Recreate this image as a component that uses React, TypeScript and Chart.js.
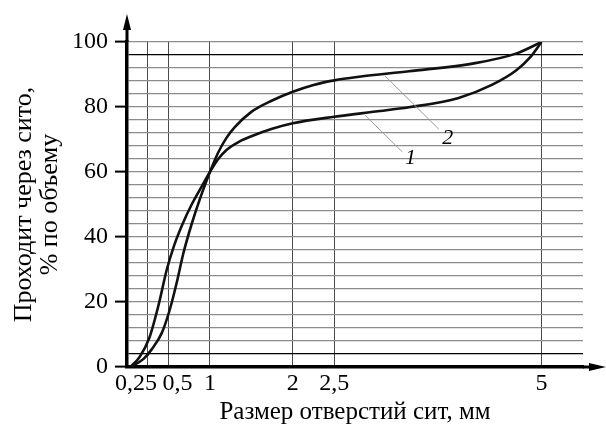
import React, { useEffect, useRef } from "react";
import { Chart, registerables } from "chart.js";

Chart.register(...registerables);

// ---- data ----
const curve1X = [0.04, 0.15, 0.27, 0.38, 0.48, 0.57, 0.67, 0.78, 0.9, 1.0, 1.1, 1.2, 1.35, 1.5, 1.75, 2.0, 2.5, 3.0, 3.4, 4.0, 4.4, 4.7, 4.87, 5.0];
const curve1Y = [0, 3, 9, 19, 30, 37.5, 44, 50, 55.5, 60, 64, 66.8, 69.3, 71, 73.3, 75, 77, 78.6, 79.9, 82.8, 86.8, 91.4, 95.5, 100];
const curve2X = [0.04, 0.2, 0.3, 0.42, 0.52, 0.6, 0.68, 0.78, 0.89, 1.0, 1.1, 1.2, 1.3, 1.5, 1.75, 2.0, 2.25, 2.5, 2.8, 3.4, 4.2, 4.7, 5.0];
const curve2Y = [0, 2.5, 5.5, 10.5, 18, 26, 35, 44, 52.5, 60, 66, 70.5, 73.8, 78.5, 82, 84.7, 86.8, 88.2, 89.3, 91, 93.5, 96.5, 100];
const curveNames = ["1", "2"];

const xTickValues = [0.25, 0.5, 1, 2, 2.5, 5];
const xTickLabels = ["0,25", "0,5", "1", "2", "2,5", "5"];
const yTickValues = [0, 20, 40, 60, 80, 100];
const yGridStep = 4;
const yDarkLines = [4, 96];
const xMin = 0;
const xMax = 5.5;
const yMin = 0;
const yMax = 100;

const xTitle = "Размер отверстий сит, мм";
const yTitle = ["Проходит через сито,", "% по объему"];

// ---- style ----
const FONT = "'Liberation Serif', 'Times New Roman', serif";
const xLabelShift = [-0.14, 0.11, 0, 0, 0, 0];
// label text anchor and leader line (data coords) for curves 1, 2
const curveLabelPos = [
  { tx: 3.42, ty: 64.3, lx1: 2.87, ly1: 77.5, lx2: 3.32, ly2: 66.2 },
  { tx: 3.87, ty: 70.5, lx1: 3.11, ly1: 89.6, lx2: 3.76, ly2: 73.2 },
];

const decorPlugin = {
  id: "decor",
  afterDraw(chart: any) {
    const { ctx, chartArea, scales } = chart;
    const sx = scales.x;
    const sy = scales.y;
    const ax = sx.getPixelForValue(0);
    const ay = sy.getPixelForValue(0);
    ctx.save();
    ctx.strokeStyle = "#000";
    ctx.fillStyle = "#000";
    ctx.lineWidth = 3;
    // y axis extension with arrow
    ctx.beginPath();
    ctx.moveTo(ax, chartArea.top);
    ctx.lineTo(ax, 26);
    ctx.stroke();
    ctx.beginPath();
    ctx.moveTo(ax, 14);
    ctx.lineTo(ax - 4, 30);
    ctx.lineTo(ax + 4, 30);
    ctx.closePath();
    ctx.fill();
    // x axis extension with arrow
    const w = chart.width;
    ctx.beginPath();
    ctx.moveTo(chartArea.right, ay);
    ctx.lineTo(w - 10, ay);
    ctx.stroke();
    ctx.beginPath();
    ctx.moveTo(w, ay);
    ctx.lineTo(w - 17, ay - 4);
    ctx.lineTo(w - 17, ay + 4);
    ctx.closePath();
    ctx.fill();
    // curve labels with leader lines
    ctx.lineWidth = 1;
    ctx.strokeStyle = "#9a9a9a";
    ctx.font = `italic 22px ${FONT}`;
    ctx.textAlign = "center";
    ctx.textBaseline = "middle";
    curveLabelPos.forEach((p, i) => {
      ctx.beginPath();
      ctx.moveTo(sx.getPixelForValue(p.lx1), sy.getPixelForValue(p.ly1));
      ctx.lineTo(sx.getPixelForValue(p.lx2), sy.getPixelForValue(p.ly2));
      ctx.stroke();
      ctx.fillStyle = "#000";
      ctx.fillText(curveNames[i], sx.getPixelForValue(p.tx), sy.getPixelForValue(p.ty));
    });
    ctx.restore();
  },
};

export default function App() {
  const ref = useRef<HTMLCanvasElement | null>(null);
  useEffect(() => {
    if (!ref.current) return;
    const ds = (xs: number[], ys: number[]) => xs.map((x, i) => ({ x, y: ys[i] }));
    const chart = new Chart(ref.current, {
      type: "line",
      data: {
        datasets: [
          {
            label: curveNames[0],
            data: ds(curve1X, curve1Y),
            borderColor: "#111",
            borderWidth: 2.6,
            pointRadius: 0,
            cubicInterpolationMode: "monotone",
            fill: false,
          },
          {
            label: curveNames[1],
            data: ds(curve2X, curve2Y),
            borderColor: "#111",
            borderWidth: 2.6,
            pointRadius: 0,
            cubicInterpolationMode: "monotone",
            fill: false,
          },
        ],
      },
      options: {
        animation: false,
        responsive: true,
        maintainAspectRatio: false,
        layout: { padding: { top: 42, right: 23, left: 0, bottom: 0 } },
        plugins: { legend: { display: false }, tooltip: { enabled: false } },
        scales: {
          x: {
            type: "linear",
            position: "bottom",
            weight: 0,
            min: xMin,
            max: xMax,
            afterBuildTicks: (s: any) => {
              s.ticks = xTickValues.map((v) => ({ value: v }));
            },
            afterFit: (s: any) => {
              s.height = 0;
            },
            ticks: { display: false, autoSkip: false },
            grid: { color: "#4a4a4a", lineWidth: 1, drawTicks: false },
            border: { display: true, color: "#000", width: 3.5 },
          },
          xl: {
            type: "linear",
            position: "bottom",
            weight: 1,
            min: xMin,
            max: xMax,
            afterBuildTicks: (s: any) => {
              s.ticks = xTickValues.map((v, i) => ({ value: v + xLabelShift[i] }));
            },
            afterFit: (s: any) => {
              s.height = 61;
            },
            ticks: {
              autoSkip: false,
              maxRotation: 0,
              padding: 5,
              color: "#000",
              font: { family: FONT, size: 24, lineHeight: 1 },
              callback: (_v: any, i: number) => xTickLabels[i],
            },
            grid: { display: false, drawTicks: false },
            border: { display: false },
            title: {
              display: true,
              text: xTitle,
              color: "#000",
              font: { family: FONT, size: 25, lineHeight: 1 },
              padding: { top: 0, bottom: 3 },
            },
          },
          y: {
            type: "linear",
            position: "left",
            min: yMin,
            max: yMax,
            afterFit: (s: any) => {
              s.width = 127;
            },
            ticks: {
              stepSize: yGridStep,
              autoSkip: false,
              padding: 7,
              color: "#000",
              font: { family: FONT, size: 24, lineHeight: 1 },
              callback: (v: any) => (yTickValues.includes(Number(v)) ? String(v) : ""),
            },
            grid: {
              color: (c: any) => (yDarkLines.includes(c.tick?.value) ? "#000" : "#8c8c8c"),
              lineWidth: 1.2,
              drawTicks: true,
              tickLength: 12,
              tickWidth: 2,
              tickColor: (c: any) => (yTickValues.includes(c.tick?.value) ? "#000" : "rgba(0,0,0,0)"),
            },
            border: { display: true, color: "#000", width: 3.5 },
            title: {
              display: true,
              text: yTitle,
              color: "#000",
              font: { family: FONT, size: 26, lineHeight: 1 },
              padding: { top: 11, bottom: 0 },
            },
          },
        },
      } as any,
      plugins: [decorPlugin],
    });
    return () => chart.destroy();
  }, []);

  return (
    <div style={{ position: "fixed", left: 0, top: 0, width: 606, height: 428, background: "#fff" }}>
      <canvas ref={ref} />
    </div>
  );
}
